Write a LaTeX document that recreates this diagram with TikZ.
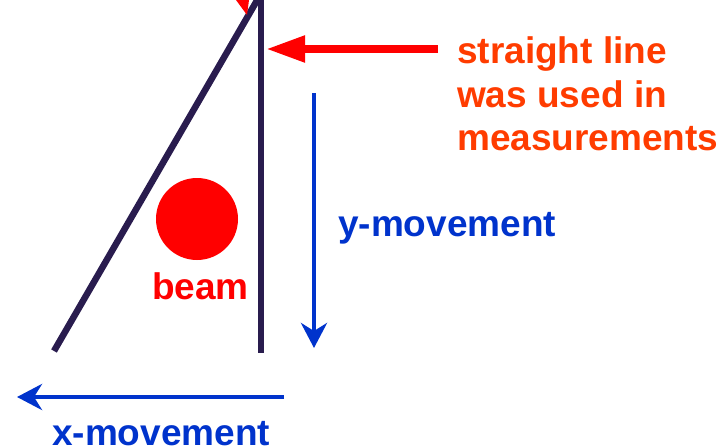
\documentclass[tikz,border=0pt]{standalone}
\usepackage{fontspec}
\setmainfont{Liberation Sans}
\usetikzlibrary{arrows.meta}
\definecolor{navyline}{HTML}{291C4E}
\definecolor{moveblue}{HTML}{0033CC}
\definecolor{noteorange}{HTML}{FF3C00}
\definecolor{beamred}{HTML}{FF0000}
\tikzset{
  bigtext/.style={font=\fontsize{37}{41}\selectfont\bfseries, inner sep=0pt, anchor=base west},
  bar/.style={draw=navyline, line width=6.5pt},
  movearrow/.style={draw=moveblue, line width=4.5pt, -{Stealth[length=25pt,width=26pt,inset=8pt]}},
  notearrow/.style={draw=beamred, line width=8pt, -{Triangle[length=39pt,width=25pt]}}
}
\begin{document}
\begin{tikzpicture}[x=1pt,y=-1pt]
\useasboundingbox (0,0) rectangle (723,447);
\begin{scope}
\clip (0,0) rectangle (723,447);
% vertical straight line and inclined line
\coordinate (vtop) at (261,-5);
\coordinate (vbot) at (261,353);
\coordinate (dtop) at (259,-3);
\coordinate (dbot) at (54,351);
\draw[bar] (vtop) -- (vbot);
\draw[bar] (dbot) -- (dtop);
% partially visible red arrow head at top
\fill[beamred] (236,0) -- (249,0) -- (247,15) -- cycle;
% red arrow to the straight line
\coordinate (nstart) at (438,49);
\coordinate (ntip) at (266,49);
\draw[notearrow] (nstart) -- (ntip);
% beam
\node[circle, fill=beamred, minimum size=82pt, inner sep=0pt] (beam) at (197,219) {};
\node[bigtext, text=beamred] (beamlbl) at (152,299) {beam};
% y movement
\coordinate (ystart) at (314,93);
\coordinate (ytip) at (314,348);
\draw[movearrow] (ystart) -- (ytip);
\node[bigtext, text=moveblue] (ylbl) at (338,236) {y-movement};
% x movement
\coordinate (xstart) at (284,397);
\coordinate (xtip) at (17,397);
\draw[movearrow] (xstart) -- (xtip);
\node[bigtext, text=moveblue] (xlbl) at (52,445) {x-movement};
% note text
\node[bigtext, text=noteorange] (t1) at (457,63) {straight line};
\node[bigtext, text=noteorange] (t2) at (457,107) {was used in};
\node[bigtext, text=noteorange] (t3) at (457,150) {measurements};
\end{scope}
\end{tikzpicture}
\end{document}
